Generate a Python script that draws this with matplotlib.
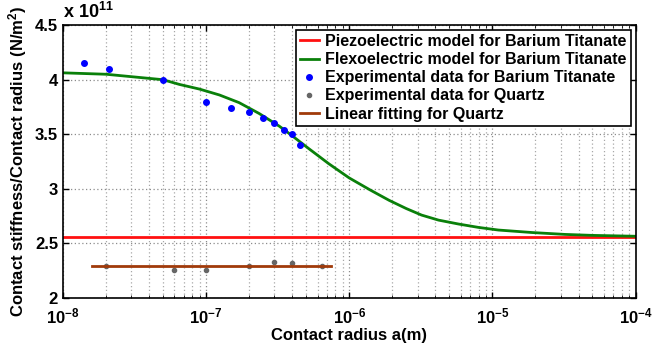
import numpy as np
import matplotlib
matplotlib.use('Agg')
import matplotlib.pyplot as plt
from matplotlib.ticker import FixedLocator, LogLocator, FuncFormatter, NullFormatter

plt.rcParams['font.family'] = ['Liberation Sans', 'DejaVu Sans']
plt.rcParams['font.weight'] = 'bold'
plt.rcParams['mathtext.fontset'] = 'custom'
plt.rcParams['mathtext.rm'] = 'Liberation Sans:bold'
plt.rcParams['mathtext.bf'] = 'Liberation Sans:bold'
plt.rcParams['mathtext.it'] = 'Liberation Sans:bold'

'''
data (stiffness / radius in units of 1e11 N/m^2)
'''
piezo_level = 2.56

flexo_a = [1e-8, 2e-8, 5e-8, 6.5e-8, 9e-8, 1.24e-7, 1.7e-7, 2.35e-7, 3.24e-7,
           3.8e-7, 5.2e-7, 7.2e-7, 1e-6, 1.4e-6, 1.9e-6, 2.5e-6, 3.2e-6,
           4.2e-6, 5.8e-6, 8e-6, 1.1e-5, 1.9e-5, 3.2e-5, 5e-5, 1e-4]
flexo_k = [4.063, 4.05, 4.00, 3.957, 3.914, 3.86, 3.79, 3.69, 3.575,
           3.508, 3.37, 3.23, 3.10, 2.99, 2.895, 2.82, 2.76,
           2.714, 2.678, 2.647, 2.623, 2.60, 2.583, 2.574, 2.566]

bt_a = [1.4e-8, 2.1e-8, 5e-8, 1e-7, 1.5e-7, 2e-7, 2.5e-7, 3e-7, 3.5e-7, 4e-7, 4.5e-7]
bt_k = [4.15, 4.10, 4.00, 3.80, 3.74, 3.70, 3.65, 3.60, 3.54, 3.50, 3.40]

qz_a = [2e-8, 6e-8, 1e-7, 2e-7, 3e-7, 4e-7, 6.5e-7]
qz_k = [2.29, 2.26, 2.26, 2.29, 2.33, 2.32, 2.29]

qz_fit_a = [1.6e-8, 7.4e-7]
qz_fit_k = [2.29, 2.29]

fig = plt.figure(figsize=(6.65, 3.49), dpi=100)
ax = fig.add_axes([0.0947, 0.146, 0.861, 0.782])

ax.plot([1e-8, 1e-4], [piezo_level, piezo_level], color='#ff1010', lw=2,
        label='Piezoelectric model for Barium Titanate')
ax.plot(flexo_a, flexo_k, color='#0a800a', lw=2,
        label='Flexoelectric model for Barium Titanate')
ax.plot(bt_a, bt_k, ls='none', marker='o', ms=4, color='#0000ff',
        label='Experimental data for Barium Titanate')
ax.plot(qz_a, qz_k, ls='none', marker='o', ms=3, color='#666666',
        label='Experimental data for Quartz')
ax.plot(qz_fit_a, qz_fit_k, color='#a03a0a', lw=2,
        label='Linear fitting for Quartz')

ax.set_xscale('log')
ax.set_xlim(1e-8, 1e-4)
ax.set_ylim(2, 4.5)
ax.xaxis.set_major_locator(FixedLocator([1e-8, 1e-7, 1e-6, 1e-5, 1e-4]))
ax.xaxis.set_minor_locator(LogLocator(base=10, subs=np.arange(2, 10)))
ax.xaxis.set_minor_formatter(NullFormatter())
ax.xaxis.set_major_formatter(FuncFormatter(
    lambda v, p: r'$\mathbf{10^{%d}}$' % int(round(np.log10(v)))))
ax.set_yticks([2, 2.5, 3, 3.5, 4, 4.5])
ax.set_yticklabels(['2', '2.5', '3', '3.5', '4', '4.5'])

ax.tick_params(which='both', direction='in', top=True, right=True)
ax.tick_params(which='major', length=4, labelsize=12, width=1)
ax.tick_params(axis='x', which='major', pad=6)
ax.tick_params(which='minor', length=2)
ax.grid(True, which='major', ls=(0, (1, 2)), color='#8c8c8c', lw=0.9)
ax.grid(True, which='minor', axis='x', ls=(0, (1, 2)), color='#a8a8a8', lw=0.9)
for s in ax.spines.values():
    s.set_linewidth(1.2)

ax.set_xlabel('Contact radius a(m)', fontsize=12, fontweight='bold', labelpad=1)
ax.set_ylabel(r'Contact stiffness/Contact radius (N/m$^2$)', fontsize=12,
              fontweight='bold', labelpad=4)
ax.text(0.0, 1.01, r'x 10$^{11}$', transform=ax.transAxes, fontsize=13,
        fontweight='bold', ha='left', va='bottom')

leg = ax.legend(loc='upper right', fontsize=11.5, frameon=True, fancybox=False,
                edgecolor='black', framealpha=1, handlelength=1.2,
                handletextpad=0.4, borderpad=0.25, labelspacing=0.2,
                borderaxespad=0.3)
leg.get_frame().set_linewidth(1.2)
for t in leg.get_texts():
    t.set_fontweight('bold')

plt.savefig('out.png', dpi=100)
